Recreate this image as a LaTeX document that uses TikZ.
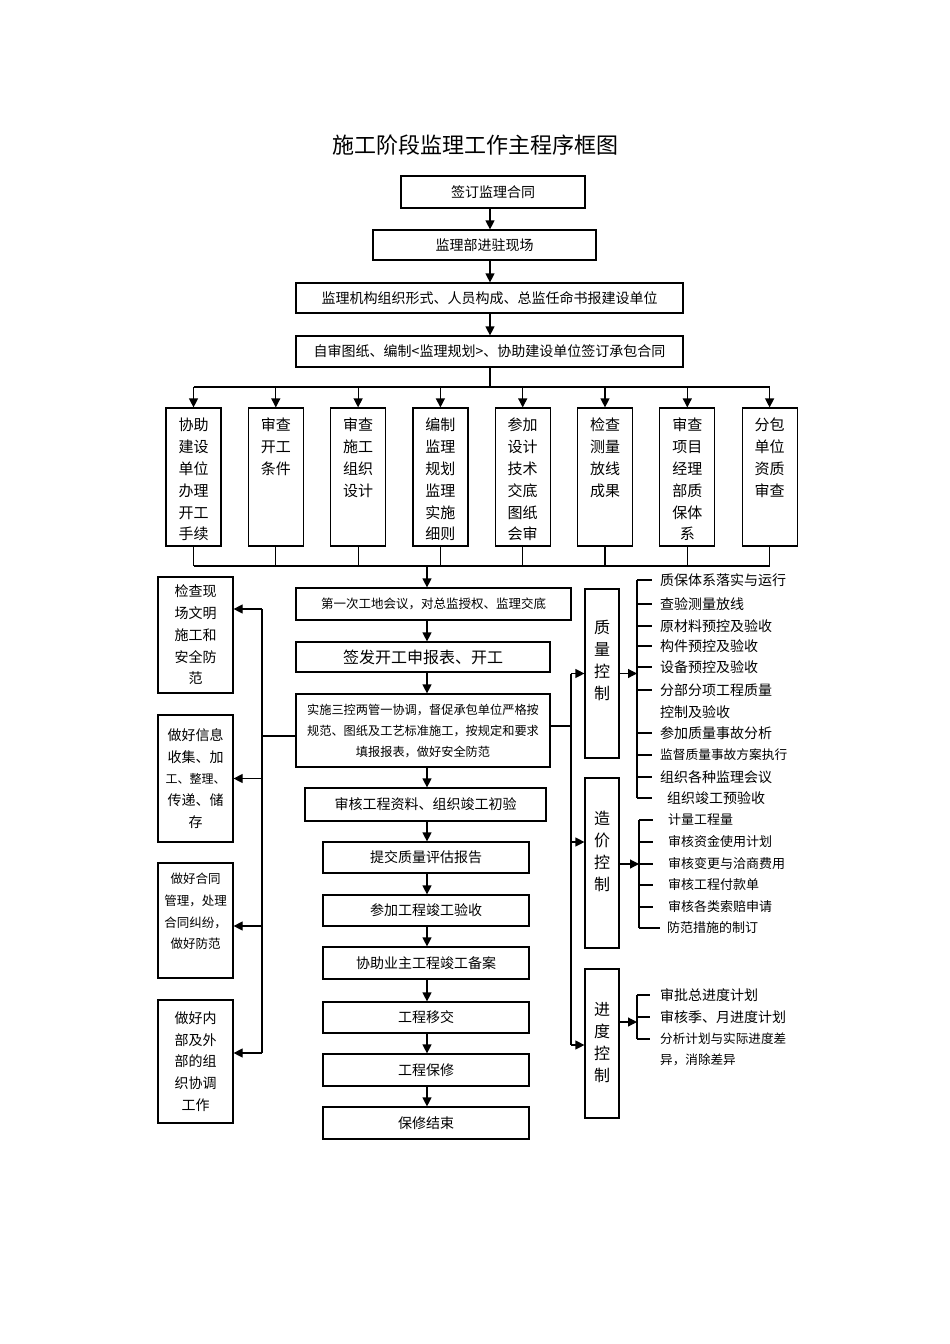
\documentclass[tikz,border=0pt]{standalone}
\usepackage{fontspec}
\setmainfont{Noto Sans CJK SC}
\usetikzlibrary{arrows.meta}
\newcommand{\myfs}[2]{\fontsize{#1pt}{#2pt}\selectfont}
\begin{document}
\begin{tikzpicture}[x=1pt,y=-1pt,
  box/.style={draw,line width=1.2pt,inner sep=0pt,align=center},
  arr/.style={line width=1.2pt,-{Triangle[length=9pt,width=9pt]}},
  ln/.style={line width=1.2pt},
  item/.style={anchor=west,inner sep=0pt,font={\myfs{14}{22}},align=left},
  citem/.style={item,font={\myfs{13}{22}}},
  coltext/.style={anchor=north,inner sep=0pt,align=center,font={\myfs{15}{21.8}}},
  sidetext/.style={inner sep=0pt,align=center,font={\myfs{16}{22}}}]
\fill[white] (0,0) rectangle (950,1344);
\useasboundingbox (0,0) rectangle (950,1344);

% title
\node[inner sep=0pt,font={\myfs{22}{22}}] (title) at (475,145) {施工阶段监理工作主程序框图};

% top chain
\coordinate (cx) at (490,0);
\node[box,minimum width=184pt,minimum height=32pt,font={\myfs{14}{18}}] (s1) at (493,192) {签订监理合同};
\node[box,minimum width=223pt,minimum height=30pt,font={\myfs{14}{18}}] (s2) at (484.5,245) {监理部进驻现场};
\node[box,minimum width=387pt,minimum height=30pt,font={\myfs{14}{18}}] (s3) at (489.5,298) {监理机构组织形式、人员构成、总监任命书报建设单位};
\node[box,minimum width=387pt,minimum height=31pt,font={\myfs{14}{18}}] (s4) at (489.5,351.5) {自审图纸、编制<监理规划>、协助建设单位签订承包合同};
\draw[arr] (s1.south -| cx) -- (s2.north -| cx);
\draw[arr] (s2.south -| cx) -- (s3.north -| cx);
\draw[arr] (s3.south -| cx) -- (s4.north -| cx);

% column boxes
\foreach \n/\x in {1/193.5,2/275.8,3/358.1,4/440.4,5/522.7,6/605.0,7/687.3,8/769.6}
  \node[box,minimum width=55pt,minimum height=138pt] (c\n) at (\x,477) {};
\node[coltext] (c1t) at (c1.north |- 0,418) {协助\\建设\\单位\\办理\\开工\\手续};
\node[coltext] (c2t) at (c2.north |- 0,418) {审查\\开工\\条件};
\node[coltext] (c3t) at (c3.north |- 0,418) {审查\\施工\\组织\\设计};
\node[coltext] (c4t) at (c4.north |- 0,418) {编制\\监理\\规划\\监理\\实施\\细则};
\node[coltext] (c5t) at (c5.north |- 0,418) {参加\\设计\\技术\\交底\\图纸\\会审};
\node[coltext] (c6t) at (c6.north |- 0,418) {检查\\测量\\放线\\成果};
\node[coltext] (c7t) at (c7.north |- 0,418) {审查\\项目\\经理\\部质\\保体\\系};
\node[coltext] (c8t) at (c8.north |- 0,418) {分包\\单位\\资质\\审查};

\coordinate (tj) at (490,387);
\draw[ln] (s4.south -| cx) -- (tj);
\draw[ln] (c1 |- tj) -- (c8 |- tj);
\foreach \n in {1,...,8} \draw[arr] (c\n |- tj) -- (c\n.north);

\coordinate (bj) at (427,566);
\foreach \n in {1,...,8} \draw[ln] (c\n.south) -- (c\n |- bj);
\draw[ln] (c1 |- bj) -- (c8 |- bj);

% main column
\coordinate (mx) at (427,0);
\node[box,minimum width=275pt,minimum height=32pt,font={\myfs{12.5}{16}}] (m1) at (433.5,604) {第一次工地会议，对总监授权、监理交底};
\node[box,minimum width=254pt,minimum height=30pt,font={\myfs{16}{20}}] (m2) at (423,657) {签发开工申报表、开工};
\node[box,minimum width=254pt,minimum height=73pt,font={\myfs{12.2}{21}}] (m3) at (423,730.5) {实施三控两管一协调，督促承包单位严格按\\规范、图纸及工艺标准施工，按规定和要求\\填报报表，做好安全防范};
\node[box,minimum width=241pt,minimum height=33pt,font={\myfs{14}{18}}] (m4) at (425.5,804.5) {审核工程资料、组织竣工初验};
\node[box,minimum width=206pt,minimum height=31pt,font={\myfs{14}{18}}] (m5) at (426,857.5) {提交质量评估报告};
\node[box,minimum width=206pt,minimum height=31pt,font={\myfs{14}{18}}] (m6) at (426,910.5) {参加工程竣工验收};
\node[box,minimum width=206pt,minimum height=32pt,font={\myfs{14}{18}}] (m7) at (426,963) {协助业主工程竣工备案};
\node[box,minimum width=206pt,minimum height=31pt,font={\myfs{14}{18}}] (m8) at (426,1017.5) {工程移交};
\node[box,minimum width=206pt,minimum height=32pt,font={\myfs{14}{18}}] (m9) at (426,1070) {工程保修};
\node[box,minimum width=206pt,minimum height=32pt,font={\myfs{14}{18}}] (m10) at (426,1123) {保修结束};
\draw[arr] (bj) -- (m1.north -| mx);
\foreach \a/\b in {1/2,2/3,3/4,4/5,5/6,6/7,7/8,8/9,9/10}
  \draw[arr] (m\a.south -| mx) -- (m\b.north -| mx);

% left boxes
\node[box,minimum width=75pt,minimum height=116pt,font={\myfs{14}{21.8}}] (l1) at (195.5,635) {检查现\\场文明\\施工和\\安全防\\范};
\node[box,minimum width=75pt,minimum height=127pt,font={\myfs{14}{21.8}}] (l2) at (195.5,778.5) {做好信息\\收集、加\\{\myfs{12}{21.8}工、整理、}\\传递、储\\存};
\node[box,minimum width=75pt,minimum height=115pt] (l3) at (195.5,920.5) {};
\node[inner sep=0pt,align=center,font={\myfs{12.5}{21.8}}] (l3t) at (195.5,911.5) {做好合同\\管理，处理\\合同纠纷，\\做好防范};
\node[box,minimum width=75pt,minimum height=123pt,font={\myfs{14}{21.8}}] (l4) at (195.5,1061.5) {做好内\\部及外\\部的组\\织协调\\工作};

\coordinate (LV) at (262,0);
\coordinate (m3l) at ([yshift=-5.5pt]m3.west);
\coordinate (l1a) at ([yshift=26pt]l1.east);
\coordinate (l2a) at (l2.east);
\coordinate (l3a) at ([yshift=-5.5pt]l3.east);
\coordinate (l4a) at ([yshift=8.5pt]l4.east);
\draw[ln] (m3l) -- (m3l -| LV);
\draw[ln] (LV |- l1a) -- (LV |- l4a);
\foreach \a in {l1a,l2a,l3a,l4a} \draw[arr] (LV |- \a) -- (\a);

% right boxes
\node[box,minimum width=34pt,minimum height=169pt] (r1) at (602,673.5) {};
\node[box,minimum width=34pt,minimum height=170pt] (r2) at (602,863) {};
\node[box,minimum width=34pt,minimum height=149pt] (r3) at (602,1043.5) {};
\node[sidetext] (r1t) at (602,660) {质\\量\\控\\制};
\node[sidetext] (r2t) at (602,851.5) {造\\价\\控\\制};
\node[sidetext] (r3t) at (602,1042.5) {进\\度\\控\\制};

\coordinate (RV) at (571,0);
\coordinate (m3r) at ([yshift=4.5pt]m3.east);
\coordinate (r1a) at (r1.west);
\coordinate (r2a) at ([yshift=21pt]r2.west);
\coordinate (r3a) at ([yshift=-1.5pt]r3.west);
\draw[ln] (m3r) -- (m3r -| RV);
\draw[ln] (RV |- r1a) -- (RV |- r3a);
\foreach \a in {r1a,r2a,r3a} \draw[arr] (RV |- \a) -- (\a);

% quality items
\node[item] (q1) at (660,580) {质保体系落实与运行};
\node[item] (q2) at (660,604) {查验测量放线};
\node[item] (q3) at (660,626) {原材料预控及验收};
\node[item] (q4) at (660,646) {构件预控及验收};
\node[item] (q5) at (660,667) {设备预控及验收};
\node[item] (q6) at (660,701) {分部分项工程质量\\控制及验收};
\node[item] (q7) at (660,733) {参加质量事故分析};
\node[item,font={\myfs{12.7}{22}}] (q8) at (660,755) {监督质量事故方案执行};
\node[item] (q9) at (660,777) {组织各种监理会议};
\node[item] (q10) at (667,798) {组织竣工预验收};
\coordinate (QB) at (637,0);
\coordinate (q6a) at ([yshift=11pt]q6.west);
\draw[ln] (QB |- q1) -- (QB |- q10);
\foreach \a in {q1,q2,q3,q4,q5,q7,q8,q9} \draw[ln] (QB |- \a) -- ([xshift=-8pt]\a.west);
\draw[ln] (QB |- q6a) -- ([xshift=-8pt]q6a);
\draw[ln] (QB |- q10) -- ([xshift=-15pt]q10.west);
\draw[arr] (r1.east) -- (r1.east -| QB);

% cost items
\node[citem] (k1) at (668,820) {计量工程量};
\node[citem] (k2) at (668,842) {审核资金使用计划};
\node[citem] (k3) at (668,864) {审核变更与洽商费用};
\node[citem] (k4) at (668,885) {审核工程付款单};
\node[citem] (k5) at (668,907) {审核各类索赔申请};
\node[citem] (k6) at (667,928) {防范措施的制订};
\coordinate (KB) at (639,0);
\draw[ln] (KB |- k1) -- (KB |- k6);
\foreach \a in {k1,k2,k3,k4,k5} \draw[ln] (KB |- \a) -- ([xshift=-15pt]\a.west);
\draw[ln] (KB |- k6) -- ([xshift=-7pt]k6.west);
\coordinate (r2b) at ([yshift=-1pt]r2.east);
\draw[arr] (r2b) -- (r2b -| KB);

% progress items
\node[item] (p1) at (660,995) {审批总进度计划};
\node[item] (p2) at (660,1017) {审核季、月进度计划};
\node[item,font={\myfs{12.6}{21}}] (p3) at (660,1049.5) {分析计划与实际进度差\\异，消除差异};
\coordinate (PB) at (637,0);
\coordinate (p3a) at ([yshift=10.5pt]p3.west);
\draw[ln] (PB |- p1) -- (PB |- p3a);
\draw[ln] (PB |- p1) -- ([xshift=-10pt]p1.west);
\draw[ln] (PB |- p2) -- ([xshift=-10pt]p2.west);
\draw[ln] (PB |- p3a) -- ([xshift=-10pt]p3a);
\coordinate (r3b) at ([yshift=21.5pt]r3.east);
\draw[arr] (r3b) -- (r3b -| PB);
\end{tikzpicture}
\end{document}
